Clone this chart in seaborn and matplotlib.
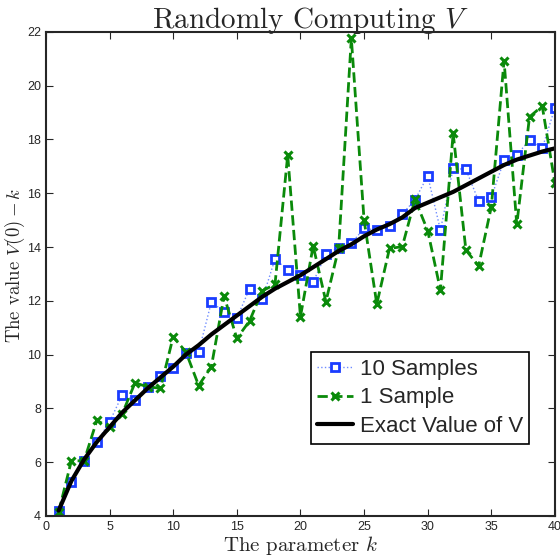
import numpy as np
import pandas as pd
import seaborn as sns
import matplotlib.pyplot as plt

# values
k_values = list(range(1, 41))

ten_samples = [4.2, 5.25, 6.05, 6.75, 7.5, 8.5, 8.3, 8.8, 9.2, 9.5,
               10.05, 10.1, 11.95, 11.6, 11.35, 12.45, 12.05, 13.55, 13.15, 12.97,
               12.7, 13.73, 13.97, 14.14, 14.69, 14.63, 14.78, 15.23, 15.75, 16.65,
               14.63, 16.92, 16.89, 15.71, 15.85, 17.22, 17.43, 17.97, 17.67, 19.18]

one_sample = [4.15, 6.05, 6.05, 7.55, 7.3, 7.8, 8.95, 8.8, 8.75, 10.66,
              10.1, 8.85, 9.55, 12.18, 10.6, 11.25, 12.37, 12.61, 17.42, 11.41,
              14.04, 11.97, 13.95, 21.76, 15.0, 11.88, 13.95, 14.01, 15.77, 14.61,
              12.4, 18.23, 13.89, 13.29, 15.5, 20.93, 14.84, 18.84, 19.24, 16.37]

exact_value = [4.2, 5.3, 6.1, 6.75, 7.3, 7.85, 8.3, 8.75, 9.15, 9.55,
               10.0, 10.35, 10.75, 11.1, 11.45, 11.8, 12.15, 12.45, 12.7, 12.95,
               13.25, 13.55, 13.85, 14.1, 14.4, 14.65, 14.85, 15.1, 15.45, 15.65,
               15.85, 16.05, 16.3, 16.55, 16.8, 17.05, 17.25, 17.4, 17.55, 17.67]

df = pd.DataFrame({'k': k_values, 'ten': ten_samples,
                   'one': one_sample, 'exact': exact_value})

sns.set_style('ticks')
plt.rcParams['font.family'] = ['Liberation Sans', 'DejaVu Sans']
plt.rcParams['mathtext.fontset'] = 'cm'

fig = plt.figure(figsize=(5.6, 5.59), dpi=100)
ax = fig.add_axes([0.082, 0.077, 0.909, 0.866])

sns.lineplot(data=df, x='k', y='ten', ax=ax, color='#6f8cff', linestyle=':',
             linewidth=1.0, marker='s', markersize=6, markerfacecolor='white',
             markeredgecolor='#1a3cff', markeredgewidth=2, label='10 Samples')
sns.lineplot(data=df, x='k', y='one', ax=ax, color='#0a8a0a', linestyle='--',
             linewidth=2, dashes=(3, 3), marker='x', markersize=5.5,
             markeredgecolor='#0a8a0a', markeredgewidth=2.2, label='1 Sample')
sns.lineplot(data=df, x='k', y='exact', ax=ax, color='black', linewidth=3,
             label='Exact Value of V')

ax.set_xlim(0, 40)
ax.set_ylim(4, 22)
ax.set_xticks(range(0, 41, 5))
ax.set_yticks(range(4, 23, 2))
ax.tick_params(direction='in', top=True, right=True, labelsize=9, length=5)
for sp in ax.spines.values():
    sp.set_linewidth(1.5)

ax.set_title('Randomly Computing $V$', fontsize=21, family='cmr10', pad=3, x=0.52)
ax.set_xlabel('The parameter $k$', fontsize=15, family='cmr10', labelpad=1)
ax.set_ylabel(r'The value $V(\mathbf{0})-k$', fontsize=13.5, family='cmr10')
ax.yaxis.set_label_coords(-0.037, 0.517)

leg = ax.legend(loc='upper left', bbox_to_anchor=(0.52, 0.339), fontsize=16,
                frameon=True, fancybox=False, edgecolor='black', framealpha=1,
                handlelength=1.6, handletextpad=0.3, borderpad=0.3,
                labelspacing=0.35, borderaxespad=0)
leg.get_frame().set_linewidth(1.2)

fig.savefig('out.png', dpi=100)
